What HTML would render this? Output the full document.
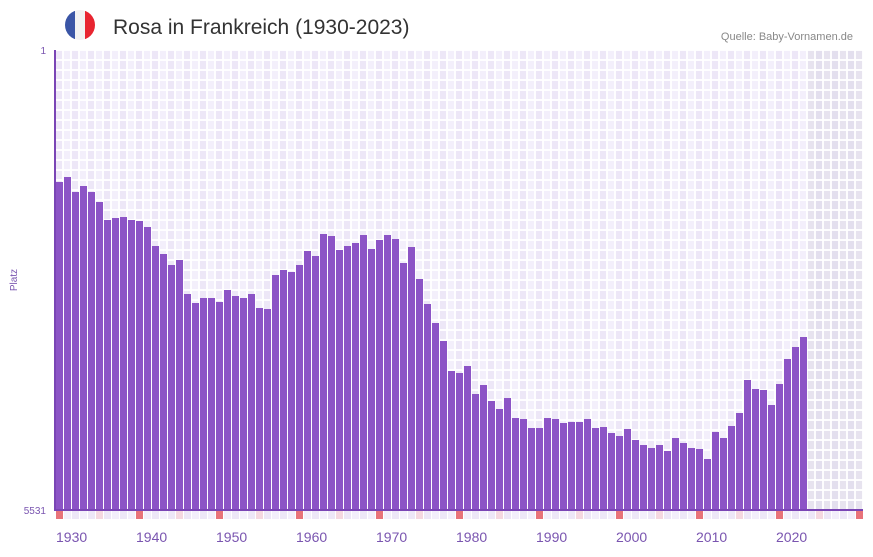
<!DOCTYPE html>
<html><head><meta charset="utf-8"><style>
body{margin:0;background:#fff;width:873px;height:552px;overflow:hidden;font-family:"Liberation Sans",sans-serif}
</style></head><body>
<svg id="s" width="873" height="552" xmlns="http://www.w3.org/2000/svg">
<defs><clipPath id="c"><circle cx="80" cy="25" r="15"/></clipPath></defs>
<g clip-path="url(#c)"><rect x="65" y="10" width="10" height="30" fill="#3a55a6"/><rect x="75" y="10" width="10" height="30" fill="#f2f2f2"/><rect x="85" y="10" width="10" height="30" fill="#e82530"/></g>
<text x="113" y="34" font-size="21" fill="#333">Rosa in Frankreich (1930-2023)</text>
<text x="853" y="40" font-size="11" fill="#888" text-anchor="end">Quelle: Baby-Vornamen.de</text>
<text x="46" y="54" font-size="10" fill="#7a55b0" text-anchor="end">1</text>
<text x="46" y="514" font-size="10" fill="#7a55b0" text-anchor="end">5531</text>
<text transform="translate(17,280) rotate(-90)" font-size="10" fill="#7a55b0" text-anchor="middle">Platz</text>
<g id="g"></g>
</svg>
<script>
var tops=[182,177,192,186,192,202,220,218,217,220,221,227,246,254,265,260,294,303,298,298,302,290,296,298,294,308,309,275,270,272,265,251,256,234,236,250,246,243,235,249,240,235,239,263,247,279,304,323,341,371,373,366,394,385,401,409,398,418,419,428,428,418,419,423,422,422,419,428,427,433,436,429,440,445,448,445,451,438,443,448,449,459,432,438,426,413,380,389,390,405,384,359,347,337];
var h='';
for(var i=0;i<101;i++){var x=55+8*i;var grey=i>=94;
 var c=grey?(i%2?'#e3dfee':'#e7e3ef'):(i%2?'#f3effb':'#ede7f7');
 h+='<rect x="'+x+'" y="50" width="8" height="460" fill="'+c+'"/>';
 var sc=(i%10==0)?'#e8737a':(i%5==0)?'#f5d8e0':(i%2?'#f3effb':'#ede7f7');
 h+='<rect x="'+(x+1)+'" y="511" width="7" height="8" fill="'+sc+'"/>';
}
for(var y=50;y<=510;y+=10)h+='<rect x="55" y="'+(y-1)+'" width="808" height="2" fill="#fff" opacity="0.9"/>';
for(var i=0;i<=101;i++)h+='<rect x="'+(55+8*i-1)+'" y="50" width="2" height="460" fill="#fff" opacity="0.9"/>';
for(var i=0;i<tops.length;i++){h+='<rect x="'+(56+8*i)+'" y="'+tops[i]+'" width="7" height="'+(510-tops[i])+'" fill="#8c54c6"/>';}
h+='<rect x="54" y="50" width="2" height="461" fill="#7a45b5"/><rect x="55" y="509" width="808" height="2" fill="#7a45b5"/>';
for(var k=0;k<10;k++)h+='<text x="'+(56+80*k)+'" y="542" font-size="14" fill="#7a55b0">'+(1930+10*k)+'</text>';
document.getElementById('g').innerHTML=h;
</script>
</body></html>
